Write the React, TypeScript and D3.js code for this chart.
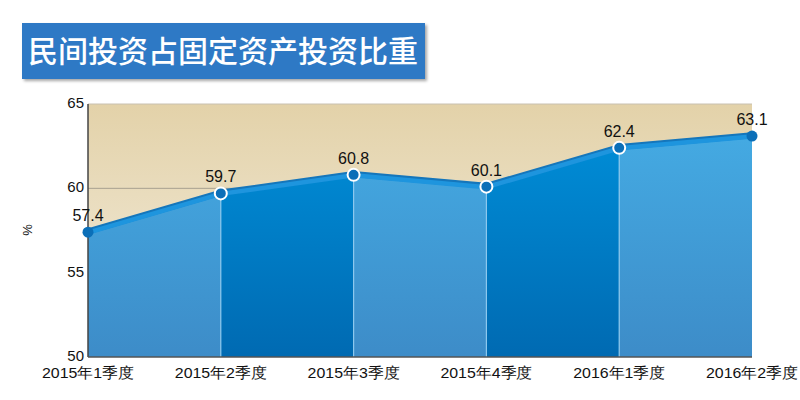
import React from "react";
import * as d3 from "d3";

const categories = ["2015年1季度", "2015年2季度", "2015年3季度", "2015年4季度", "2016年1季度", "2016年2季度"];
const values = [57.4, 59.7, 60.8, 60.1, 62.4, 63.1];
const yTicks = [50, 55, 60, 65];
const title = "民间投资占固定资产投资比重";
const yLabel = "%";

export default function App() {
  const W = 800, H = 400;
  const x0 = 88, x1 = 752, yTop = 104, yBot = 357;
  const x = d3.scalePoint<string>().domain(categories).range([x0, x1]);
  const y = d3.scaleLinear().domain([50, 65]).range([yBot, yTop]);
  const pts = categories.map((c, i) => [x(c) as number, y(values[i])] as [number, number]);
  const line = d3.line<[number, number]>()(pts) || "";
  const font = "'Liberation Sans', Arial, sans-serif";

  const segments = pts.slice(0, -1).map((p, i) => {
    const q = pts[i + 1];
    const d = `M${p[0]},${p[1]} L${q[0]},${q[1]} L${q[0]},${yBot} L${p[0]},${yBot} Z`;
    return { d, light: i % 2 === 0 };
  });

  return (
    <svg width={W} height={H} style={{ position: "absolute", left: 0, top: 0, background: "#fff" }}>
      <defs>
        <linearGradient id="bg" x1="0" y1="0" x2="0" y2="1">
          <stop offset="0" stopColor="#e3d2a9" />
          <stop offset="1" stopColor="#f4eee1" />
        </linearGradient>
        <linearGradient id="lg" x1="0" y1={yTop} x2="0" y2={yBot} gradientUnits="userSpaceOnUse">
          <stop offset="0" stopColor="#45aee6" />
          <stop offset="1" stopColor="#3d8cc8" />
        </linearGradient>
        <linearGradient id="dg" x1="0" y1={yTop} x2="0" y2={yBot} gradientUnits="userSpaceOnUse">
          <stop offset="0" stopColor="#0092dc" />
          <stop offset="1" stopColor="#006ab2" />
        </linearGradient>
        <filter id="sh" x="-5%" y="-10%" width="115%" height="140%">
          <feDropShadow dx="2" dy="2" stdDeviation="1.5" floodColor="#000" floodOpacity="0.35" />
        </filter>
      </defs>

      {/* title */}
      <rect x={22} y={23} width={403} height={56} fill="#2f79c5" filter="url(#sh)" />
      <text x={223} y={62} textAnchor="middle" fill="#fff" fontSize={30} fontFamily="'Noto Sans CJK SC', sans-serif" fontWeight={500}>{title}</text>

      {/* background */}
      <rect x={x0} y={yTop} width={x1 - x0} height={yBot - yTop} fill="url(#bg)" />
      <line x1={x0} x2={x1} y1={yTop} y2={yTop} stroke="#c8c0b0" strokeWidth={1} />
      <line x1={x0} x2={x1} y1={y(60)} y2={y(60)} stroke="#a8a090" strokeWidth={1} />

      {segments.map((s, i) => (
        <path key={i} d={s.d} fill={s.light ? "url(#lg)" : "url(#dg)"} />
      ))}
      {pts.slice(1, -1).map((p, i) => (
        <line key={i} x1={p[0]} x2={p[0]} y1={p[1]} y2={yBot} stroke="#8cc8ee" strokeWidth={1.2} />
      ))}

      <path d={line} fill="none" stroke="#1576bb" strokeWidth={6} strokeLinejoin="round" transform="translate(0,-0.8)" />
      <path d={line} fill="none" stroke="#1e95de" strokeWidth={4.5} strokeLinejoin="round" transform="translate(0,0.5)" />

      {/* axes */}
      <line x1={x0} x2={x0} y1={yTop} y2={yBot} stroke="#444" strokeWidth={1.5} />
      <line x1={x0} x2={x1} y1={yBot} y2={yBot} stroke="#555" strokeWidth={1.5} />

      {pts.map((p, i) => {
        const edge = i === 0 || i === pts.length - 1;
        return (
          <circle key={i} cx={p[0]} cy={p[1]} r={edge ? 5.5 : 6} fill="#0b6fb8" stroke={edge ? "none" : "#fff"} strokeWidth={2} />
        );
      })}

      {pts.map((p, i) => (
        <text key={i} x={p[0]} y={p[1] - 11} textAnchor="middle" fontSize={16} fontFamily={font} fill="#111">
          {values[i].toFixed(1)}
        </text>
      ))}

      {yTicks.map((t) => (
        <text key={t} x={84} y={y(t) + 4} textAnchor="end" fontSize={15} fontFamily={font} fill="#111">{t}</text>
      ))}

      {categories.map((c) => (
        <text key={c} x={x(c) as number} y={378} textAnchor="middle" fontSize={15} fontFamily={font} fill="#111" textLength={92} lengthAdjust="spacingAndGlyphs">{c}</text>
      ))}

      <text transform={`translate(32,230) rotate(-90)`} textAnchor="middle" fontSize={13} fontFamily={font} fill="#111">{yLabel}</text>
    </svg>
  );
}
